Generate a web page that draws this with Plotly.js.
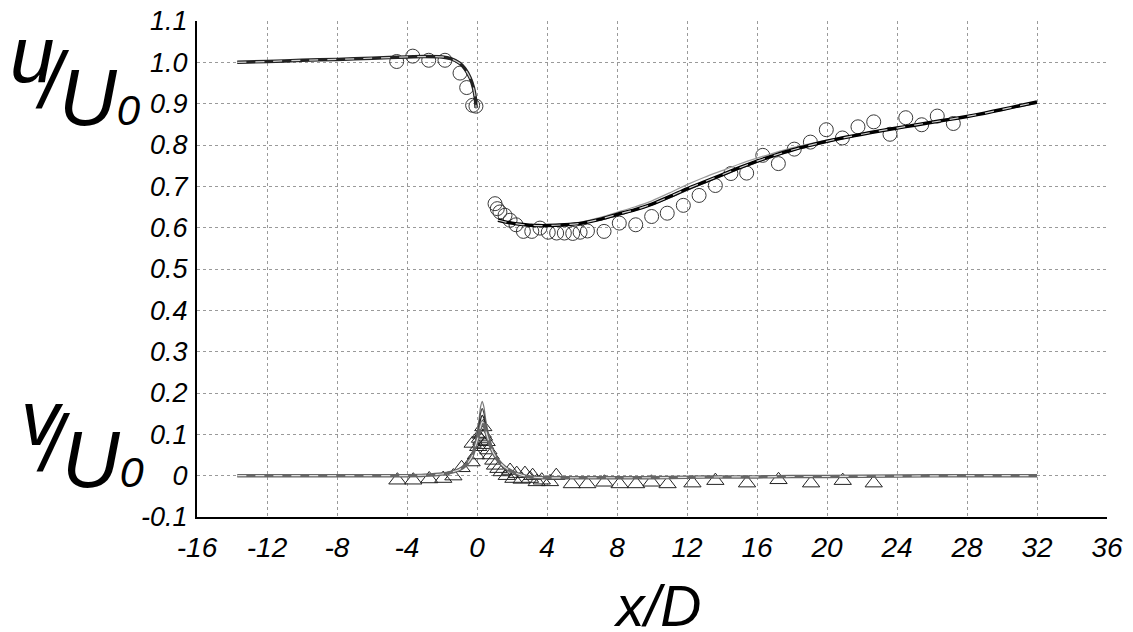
<!DOCTYPE html>
<html>
<head>
<meta charset="utf-8">
<script src="https://cdn.plot.ly/plotly-3.0.1.min.js"></script>
<style>
  html, body { margin: 0; padding: 0; background: #fff; }
  #chart { width: 1133px; height: 632px; }
</style>
</head>
<body>
<div id="chart"></div>
<script>
// ---------------- data ----------------
// streamwise velocity u/U0, simulations upstream of the body
const uUpX     = [-13.7, -12, -10, -8, -6, -4, -3, -2, -1.5, -1, -0.7, -0.4, -0.2, -0.1, -0.05];
const uUpBlack = [1.000, 1.002, 1.005, 1.007, 1.010, 1.013, 1.014, 1.013, 1.009, 0.998, 0.985, 0.963, 0.938, 0.915, 0.890];
const uUpGrayA = [1.001, 1.003, 1.006, 1.008, 1.011, 1.014, 1.015, 1.015, 1.011, 1.001, 0.989, 0.968, 0.944, 0.920, 0.893];
const uUpGrayB = [0.999, 1.001, 1.004, 1.006, 1.009, 1.012, 1.013, 1.012, 1.007, 0.996, 0.982, 0.960, 0.934, 0.911, 0.888];

// streamwise velocity u/U0, simulations in the wake
const uDnX     = [1.2, 1.6, 2, 2.5, 3, 3.5, 4, 5, 6, 7, 8, 9, 10, 11, 12, 13, 14, 15, 16, 17, 18, 19, 20, 21, 22, 23, 24, 25, 26, 27, 28, 29, 30, 31, 32];
const uDnBlack = [0.618, 0.614, 0.611, 0.608, 0.606, 0.605, 0.605, 0.607, 0.611, 0.620, 0.632, 0.643, 0.657, 0.675, 0.694, 0.711, 0.728, 0.745, 0.761, 0.775, 0.788, 0.799, 0.809, 0.818, 0.826, 0.834, 0.841, 0.848, 0.855, 0.862, 0.869, 0.877, 0.886, 0.895, 0.904];
const uDnGrayA = [0.620, 0.616, 0.612, 0.609, 0.607, 0.606, 0.606, 0.609, 0.614, 0.624, 0.637, 0.650, 0.665, 0.684, 0.704, 0.722, 0.738, 0.754, 0.768, 0.781, 0.793, 0.803, 0.812, 0.820, 0.828, 0.835, 0.842, 0.849, 0.856, 0.863, 0.870, 0.878, 0.886, 0.894, 0.902];
const uDnGrayB = [0.616, 0.613, 0.610, 0.607, 0.605, 0.604, 0.604, 0.606, 0.610, 0.618, 0.629, 0.641, 0.655, 0.672, 0.690, 0.708, 0.725, 0.742, 0.758, 0.773, 0.786, 0.797, 0.807, 0.816, 0.825, 0.833, 0.840, 0.847, 0.854, 0.861, 0.868, 0.876, 0.884, 0.893, 0.901];

// experiment u/U0 (circles)
const uExpX = [-4.59, -3.67, -2.76, -1.83, -0.97, -0.59, -0.25, -0.06,
  1.03, 1.16, 1.31, 1.6, 1.89, 2.23, 2.65, 3.13, 3.6, 4.07, 4.55, 4.99, 5.47, 5.89, 6.31, 7.26,
  8.13, 9.07, 9.98, 10.87, 11.79, 12.69, 13.62, 14.51, 15.41, 16.33, 17.22, 18.13, 19.05, 19.96,
  20.88, 21.77, 22.67, 23.6, 24.5, 25.41, 26.3, 27.22];
const uExpY = [1.002, 1.015, 1.005, 1.005, 0.974, 0.939, 0.896, 0.894,
  0.658, 0.646, 0.638, 0.630, 0.618, 0.607, 0.591, 0.591, 0.599, 0.589, 0.587, 0.587, 0.586, 0.589, 0.592, 0.591,
  0.611, 0.607, 0.627, 0.635, 0.654, 0.678, 0.702, 0.731, 0.732, 0.775, 0.755, 0.790, 0.807, 0.837,
  0.817, 0.844, 0.856, 0.826, 0.866, 0.849, 0.870, 0.852];

// transverse velocity v/U0, simulations
const vX     = [-13.7, -10, -6, -4, -3, -2, -1.5, -1, -0.6, -0.3, -0.1, 0.1, 0.2, 0.3, 0.4, 0.5, 0.7, 0.9, 1.2, 1.6, 2, 2.5, 3, 4, 6, 8, 10, 12, 14, 16, 18, 20, 24, 28, 32];
const vBlack = [0, 0, 0, 0, 0.001, 0.004, 0.008, 0.015, 0.027, 0.045, 0.070, 0.100, 0.118, 0.130, 0.125, 0.108, 0.080, 0.058, 0.037, 0.020, 0.010, 0.002, -0.003, -0.005, -0.005, -0.005, -0.005, -0.004, -0.003, -0.003, -0.002, -0.002, -0.001, 0, 0];
const vGrayA = [0, 0, 0, 0, 0.001, 0.005, 0.009, 0.017, 0.030, 0.050, 0.080, 0.130, 0.165, 0.180, 0.165, 0.135, 0.095, 0.065, 0.040, 0.022, 0.011, 0.003, -0.002, -0.004, -0.005, -0.005, -0.005, -0.004, -0.003, -0.003, -0.002, -0.001, -0.001, 0, 0];
const vGrayB = [0, 0, 0, 0, 0.001, 0.005, 0.009, 0.016, 0.029, 0.048, 0.076, 0.120, 0.150, 0.162, 0.150, 0.124, 0.088, 0.061, 0.038, 0.021, 0.010, 0.002, -0.003, -0.005, -0.005, -0.005, -0.005, -0.004, -0.003, -0.003, -0.002, -0.001, -0.001, 0, 0];
const vGrayC = [0, 0, 0, 0, 0.001, 0.004, 0.008, 0.015, 0.028, 0.046, 0.072, 0.110, 0.135, 0.146, 0.138, 0.116, 0.084, 0.060, 0.038, 0.021, 0.010, 0.002, -0.003, -0.005, -0.005, -0.005, -0.005, -0.004, -0.003, -0.003, -0.002, -0.001, -0.001, 0, 0];

// experiment v/U0 (triangles)
const vExpX = [-4.55, -3.64, -2.73, -1.93, -1.35, -0.88, -0.31, -0.25, -0.06, 0.07, 0.17, 0.2, 0.25, 0.33, 0.36, 0.4, 0.45, 0.55, 0.65, 0.78, 0.93, 1.03, 1.22, 1.41, 1.7, 1.89, 2.08, 2.27, 2.55, 2.74, 3.03, 3.18, 3.41, 3.7, 4.17, 4.53, 5.42, 6.3, 7.28, 8.15, 9.09, 9.97, 10.89, 12.31, 13.62, 15.43, 17.23, 19.09, 20.9, 22.67];
const vExpY = [-0.011, -0.011, -0.008, -0.007, -0.001, 0.019, 0.033, 0.078, 0.050, 0.070, 0.090, 0.100, 0.085, 0.102, 0.118, 0.095, 0.075, 0.082, 0.062, 0.050, 0.037, 0.025, 0.017, 0.009, 0.000, 0.0125, -0.007, 0.005, -0.009, 0.005, -0.007, 0.000, -0.015, -0.011, -0.015, 0.000, -0.020, -0.020, -0.016, -0.020, -0.020, -0.016, -0.020, -0.018, -0.012, -0.018, -0.010, -0.018, -0.012, -0.018];

// axis ticks
const xTickVals = [-16, -12, -8, -4, 0, 4, 8, 12, 16, 20, 24, 28, 32, 36];
const xTickText = ['-16', '-12', '-8', '-4', '0', '4', '8', '12', '16', '20', '24', '28', '32', '36'];
const yTickVals = [-0.1, 0, 0.1, 0.2, 0.3, 0.4, 0.5, 0.6, 0.7, 0.8, 0.9, 1.0, 1.1];
const yTickText = ['-0.1', '0', '0.1', '0.2', '0.3', '0.4', '0.5', '0.6', '0.7', '0.8', '0.9', '1.0', '1.1'];

// ---------------- layout helpers ----------------
const W = 1133, H = 632;
const M = {l: 197, r: 26, t: 21, b: 115};
const PW = W - M.l - M.r, PH = H - M.t - M.b;
const NARROW = 'Liberation Sans Narrow, Arial Narrow, Liberation Sans, Arial, sans-serif';
const SANS = 'Liberation Sans, Arial, sans-serif';

function px2paperX(px) { return (px - M.l) / PW; }
function px2paperY(py) { return (M.t + PH - py) / PH; }
// place a text piece so that its centre sits at px and its baseline at baseline
function glyph(text, px, baseline, size) {
  const centerY = baseline - 0.3465 * size;
  return {
    text: text, xref: 'paper', yref: 'paper',
    x: px2paperX(px), y: px2paperY(centerY),
    xanchor: 'center', yanchor: 'middle', showarrow: false,
    font: {family: NARROW, size: size, style: 'italic', color: '#000'}
  };
}

function line(x, y, color, width, dash) {
  return {x: x, y: y, type: 'scatter', mode: 'lines', hoverinfo: 'skip',
          line: {color: color, width: width, dash: dash || 'solid', shape: 'spline', smoothing: 0.6}};
}

const traces = [
  // experiments
  {x: uExpX, y: uExpY, type: 'scatter', mode: 'markers',
   marker: {symbol: 'circle-open', size: 14, color: '#3a3a3a', line: {width: 1, color: '#3a3a3a'}}},
  {x: vExpX, y: vExpY, type: 'scatter', mode: 'markers',
   marker: {symbol: 'triangle-up-open', size: 15, color: '#222', line: {width: 1, color: '#222'}}},
  // simulations u
  line(uUpX, uUpGrayA, '#9a9a9a', 1.3),
  line(uUpX, uUpGrayB, '#6a6a6a', 1.3),
  line(uUpX, uUpBlack, '#222', 3.5),
  line(uUpX, uUpBlack, '#d0d0d0', 1.2, 'dash'),
  line(uDnX, uDnGrayA, '#9a9a9a', 1.3),
  line(uDnX, uDnGrayB, '#6a6a6a', 1.3),
  line(uDnX, uDnBlack, '#000', 3.5),
  line(uDnX, uDnBlack, '#cfcfcf', 1.2, 'dash'),
  // simulations v
  line(vX, vGrayA, '#777', 1.2),
  line(vX, vGrayB, '#444', 1.2),
  line(vX, vGrayC, '#222', 1.2),
  line(vX, vBlack, '#666', 3.5),
  line(vX, vBlack, '#e0e0e0', 1.2, 'dash')
];

const annotations = [
  // u/U0
  glyph('u', 32, 82, 80),
  glyph('/', 52, 108, 80),
  glyph('U<span style="font-size:42px">0</span>', 100, 125, 80),
  // v/U0
  glyph('v', 42, 445, 77),
  glyph('/', 53, 471, 80),
  glyph('U<span style="font-size:43px">0</span>', 103, 487, 80),
  // x/D
  glyph('x/D', 657, 626, 57)
];

const gridStyle = {showgrid: true, gridcolor: '#9a9a9a', gridwidth: 1, griddash: '3px,3px'};

const layout = {
  width: W, height: H,
  margin: M,
  paper_bgcolor: '#fff', plot_bgcolor: '#fff',
  showlegend: false,
  xaxis: Object.assign({
    range: [-16, 36], tickmode: 'array', tickvals: xTickVals, ticktext: xTickText,
    showline: true, linecolor: '#000', linewidth: 2, zeroline: false, ticks: '',
    tickfont: {family: NARROW, size: 28, style: 'italic', color: '#000'},
    ticklabelstandoff: 4
  }, gridStyle),
  yaxis: Object.assign({
    range: [-0.1, 1.1], tickmode: 'array', tickvals: yTickVals, ticktext: yTickText,
    showline: true, linecolor: '#000', linewidth: 2, zeroline: false, ticks: '',
    tickfont: {family: SANS, size: 27, style: 'italic', color: '#000'},
    ticklabelstandoff: 2
  }, gridStyle),
  annotations: annotations
};

Plotly.newPlot('chart', traces, layout, {displayModeBar: false, staticPlot: true});
</script>
</body>
</html>
